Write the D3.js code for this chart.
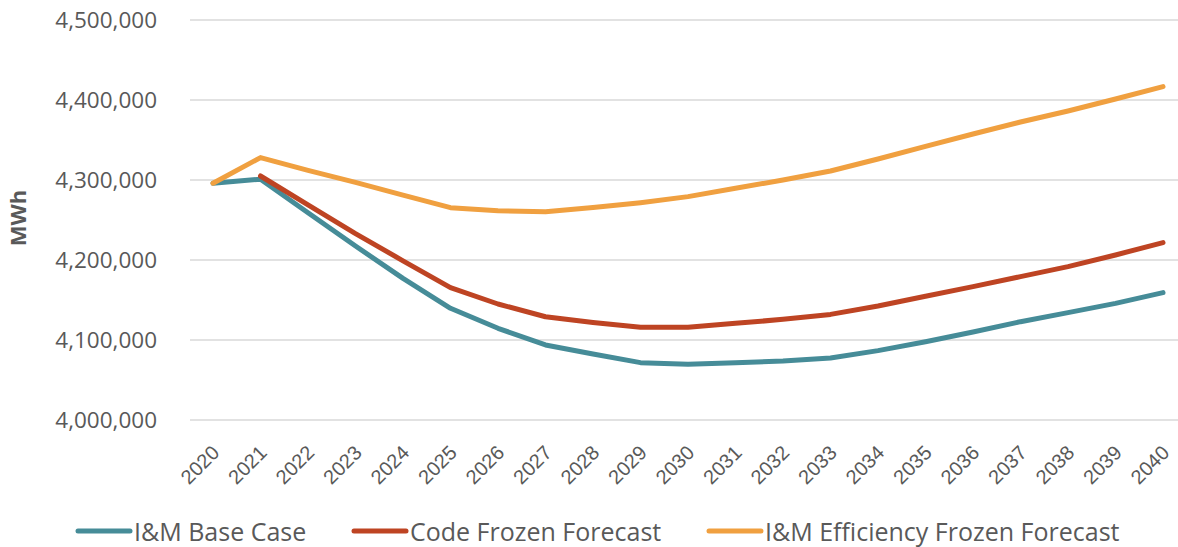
<!DOCTYPE html>
<html>
<head>
<meta charset="utf-8">
<script src="https://cdn.jsdelivr.net/npm/d3@7"></script>
<style>
  body { margin: 0; background: #fff; }
  svg { display: block; font-family: "Open Sans", "Noto Sans", sans-serif; }
</style>
</head>
<body>
<svg id="chart" width="1178" height="547"></svg>
<script>
const years = ["2020","2021","2022","2023","2024","2025","2026","2027","2028","2029","2030","2031","2032","2033","2034","2035","2036","2037","2038","2039","2040"];
const baseCase = [4296000,4301000,4259000,4217500,4177000,4139600,4114600,4093800,4082500,4071700,4069600,4071700,4073800,4077500,4086700,4097900,4110000,4122900,4134200,4145800,4159200];
const codeFrozen = [null,4305000,4269000,4233000,4199000,4165400,4145000,4129100,4122000,4116000,4115800,4120800,4125800,4132000,4142500,4154600,4166700,4179200,4191700,4206300,4221700];
const effFrozen = [4296000,4328000,4312000,4297000,4281000,4265400,4261600,4260400,4265500,4271700,4279200,4289600,4300000,4311300,4326300,4342000,4357500,4372500,4386300,4401300,4416700];
const yTicks = [4000000,4100000,4200000,4300000,4400000,4500000];
const seriesNames = ["I&M Base Case","Code Frozen Forecast","I&M Efficiency Frozen Forecast"];
const seriesColors = ["#468C98","#BE4423","#F0A040"];

const svg = d3.select("#chart");
const x = d3.scalePoint().domain(years).range([213, 1163]);
const y = d3.scaleLinear().domain([4000000, 4500000]).range([420, 20]);
const fmt = d3.format(",");

// gridlines
svg.append("g").selectAll("line").data(yTicks).join("line")
  .attr("x1", 190).attr("x2", 1178)
  .attr("y1", d => y(d)).attr("y2", d => y(d))
  .attr("stroke", "#d9d9d9").attr("stroke-width", 1.3);

// y axis
const yAxis = svg.append("g").attr("transform", "translate(157,0)")
  .call(d3.axisLeft(y).tickValues(yTicks).tickFormat(fmt).tickSize(0).tickPadding(0));
yAxis.select(".domain").remove();
yAxis.selectAll("text").attr("fill", "#595959").style("font-size", "22.5px")
  .style("font-family", "'Open Sans', sans-serif");

// x axis labels
const xAxis = svg.append("g").attr("transform", "translate(0,420)")
  .call(d3.axisBottom(x).tickSize(0).tickPadding(0));
xAxis.select(".domain").remove();
xAxis.selectAll("text")
  .attr("fill", "#595959").style("font-size", "20px")
  .attr("text-anchor", "end").attr("dy", 0).attr("y", 0)
  .attr("transform", "translate(7,34) rotate(-45)");

// y title
svg.append("text").attr("transform", "translate(26,218) rotate(-90)")
  .attr("text-anchor", "middle").attr("fill", "#595959")
  .style("font-size", "22px").style("font-weight", "bold").text("MWh");

// lines
const data = [baseCase, codeFrozen, effFrozen];
const line = d3.line().defined(d => d != null).x((d, i) => x(years[i])).y(d => y(d));
svg.append("g").selectAll("path").data(data).join("path")
  .attr("d", d => line(d)).attr("fill", "none")
  .attr("stroke", (d, i) => seriesColors[i]).attr("stroke-width", 5)
  .attr("stroke-linejoin", "round").attr("stroke-linecap", "round");

// legend
const legendX = [78, 354, 709];
const lg = svg.append("g").selectAll("g").data(seriesNames).join("g")
  .attr("transform", (d, i) => `translate(${legendX[i]},531)`);
lg.append("line").attr("x1", 0).attr("x2", 52).attr("y1", 0).attr("y2", 0)
  .attr("stroke", (d, i) => seriesColors[i]).attr("stroke-width", 5).attr("stroke-linecap", "round");
lg.append("text").attr("x", 56).attr("y", 10).attr("fill", "#595959")
  .style("font-size", "25px").text(d => d);
</script>
</body>
</html>
